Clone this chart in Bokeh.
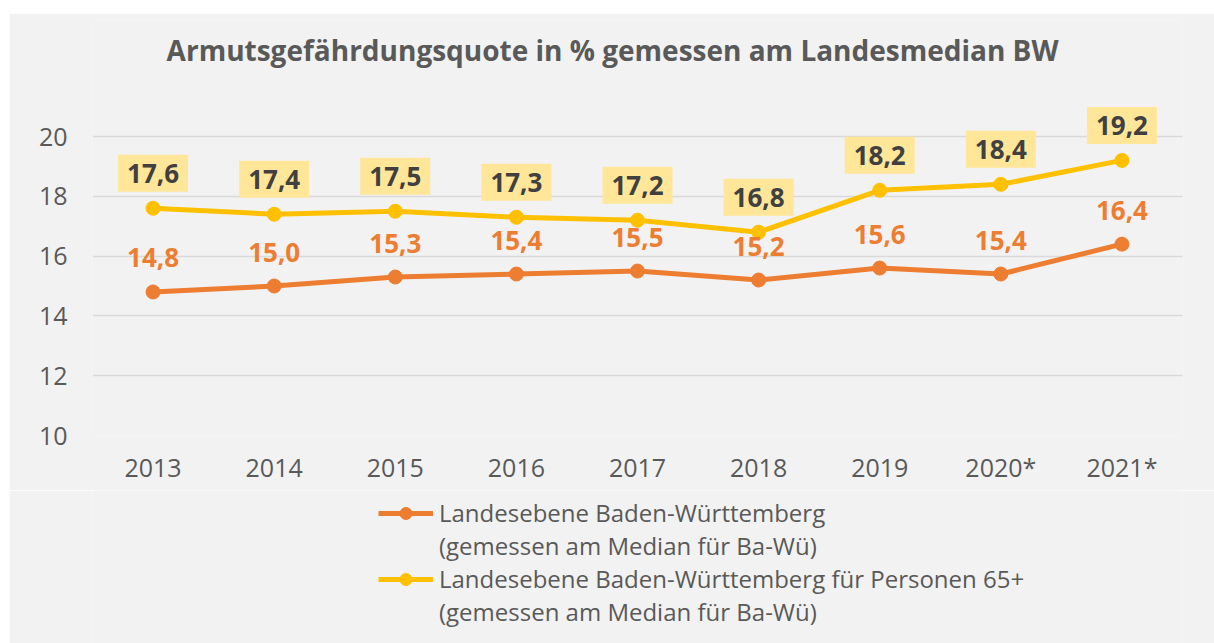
from bokeh.plotting import figure
from bokeh.layouts import column
from bokeh.models import FixedTicker, Legend, LegendItem, Range1d, ColumnDataSource
from bokeh.core.properties import value
from bokeh.embed import file_html
from bokeh.resources import INLINE

years = ["2013", "2014", "2015", "2016", "2017", "2018", "2019", "2020*", "2021*"]
bw = [14.8, 15.0, 15.3, 15.4, 15.5, 15.2, 15.6, 15.4, 16.4]
bw65 = [17.6, 17.4, 17.5, 17.3, 17.2, 16.8, 18.2, 18.4, 19.2]
y_ticks = [10, 12, 14, 16, 18, 20]
title_text = "Armutsgefährdungsquote in % gemessen am Landesmedian BW"
name_bw = "Landesebene Baden-Württemberg"
name_bw65 = "Landesebene Baden-Württemberg für Personen 65+"
name_sub = "(gemessen am Median für Ba-Wü)"

ORANGE = "#ED7D31"
YELLOW = "#FFC000"
BOXFILL = "#FFE699"
GREY_TXT = "#595959"
DARK_TXT = "#404040"
BG = "#F2F2F2"
FONT = "Open Sans"

def fmt(v):
    return f"{v:.1f}".replace(".", ",")

xs = list(range(len(years)))
src = ColumnDataSource(dict(
    x=xs, bw=bw, bw65=bw65,
    bw_lbl=[fmt(v) for v in bw], bw65_lbl=[fmt(v) for v in bw65],
))

PPU = 29.9  # px per y unit
p = figure(width=1205, height=477, output_backend="svg", toolbar_location=None,
           x_range=Range1d(-0.5, len(years) - 0.5),
           y_range=Range1d(10, 10 + 415 / PPU),
           min_border_left=83, min_border_right=32, min_border_top=7, min_border_bottom=55)
p.background_fill_color = BG
p.border_fill_color = BG
p.outline_line_color = None

# axes
p.yaxis.ticker = FixedTicker(ticks=y_ticks)
p.xaxis.ticker = FixedTicker(ticks=xs)
p.xaxis.major_label_overrides = {i: y for i, y in enumerate(years)}
for ax in (p.xaxis, p.yaxis):
    ax.axis_line_color = None
    ax.major_tick_line_color = None
    ax.minor_tick_line_color = None
    ax.major_tick_in = 0
    ax.major_tick_out = 0
    ax.major_label_text_font = FONT
    ax.major_label_text_font_size = "25px"
    ax.major_label_text_color = GREY_TXT
p.yaxis.major_label_standoff = 25
p.xaxis.major_label_standoff = 14
p.xgrid.grid_line_color = None
p.ygrid.ticker = FixedTicker(ticks=y_ticks)
p.ygrid.grid_line_color = "#D9D9D9"
p.ygrid.grid_line_width = 1.5

# series
p.line("x", "bw", source=src, line_color=ORANGE, line_width=5)
p.scatter("x", "bw", source=src, size=14, fill_color=ORANGE, line_color=ORANGE)
p.line("x", "bw65", source=src, line_color=YELLOW, line_width=5)
p.scatter("x", "bw65", source=src, size=14, fill_color=YELLOW, line_color=YELLOW)

# data labels
p.text("x", "bw", text="bw_lbl", source=src, y_offset=-34,
       text_align="center", text_baseline="middle",
       text_font=value(FONT), text_font_style="bold", text_font_size="26px",
       text_color=ORANGE)
p.text("x", "bw65", text="bw65_lbl", source=src, y_offset=-35,
       text_align="center", text_baseline="middle",
       text_font=value(FONT), text_font_style="bold", text_font_size="26px",
       text_color=DARK_TXT, background_fill_color=BOXFILL,
       padding=dict(left=9, right=9, top=9, bottom=9))

# title
p.text(x=[(612 - 92) / 121.1 - 0.5], y=[10 + (435 - 49) / PPU], text=[title_text],
       text_align="center", text_baseline="middle",
       text_font=value(FONT), text_font_style="bold", text_font_size="28px",
       text_color=GREY_TXT)

# legend panel (separate strip below the chart; series drawn off-range, used for legend glyphs)
q = figure(width=1205, height=153, output_backend="svg", toolbar_location=None,
           x_range=Range1d(100, 101), y_range=Range1d(100, 101),
           min_border_left=83, min_border_right=32, min_border_top=0, min_border_bottom=0)
q.axis.visible = False
q.grid.visible = False
q.background_fill_color = BG
q.border_fill_color = BG
q.outline_line_color = None
gl1 = q.line("x", "bw", source=src, line_color=ORANGE, line_width=5)
gc1 = q.scatter("x", "bw", source=src, size=14, fill_color=ORANGE, line_color=ORANGE)
gl2 = q.line("x", "bw65", source=src, line_color=YELLOW, line_width=5)
gc2 = q.scatter("x", "bw65", source=src, size=14, fill_color=YELLOW, line_color=YELLOW)
dummy = q.line("x", "bw", source=src, line_alpha=0)
legend = Legend(items=[
    LegendItem(label=name_bw, renderers=[gl1, gc1]),
    LegendItem(label=name_sub, renderers=[dummy]),
    LegendItem(label=name_bw65, renderers=[gl2, gc2]),
    LegendItem(label=name_sub, renderers=[dummy]),
], location=(286, 15), orientation="vertical",
    background_fill_alpha=0, border_line_color=None,
    padding=0, margin=0, spacing=-4,
    glyph_width=55, glyph_height=30, label_height=30, label_standoff=6,
    label_text_font=FONT, label_text_font_size="24px", label_text_color=GREY_TXT)
q.add_layout(legend, "center")

layout = column(p, q, spacing=0, margin=(13, 0, 0, 9))
open("out.html", "w").write(file_html(layout, INLINE))
